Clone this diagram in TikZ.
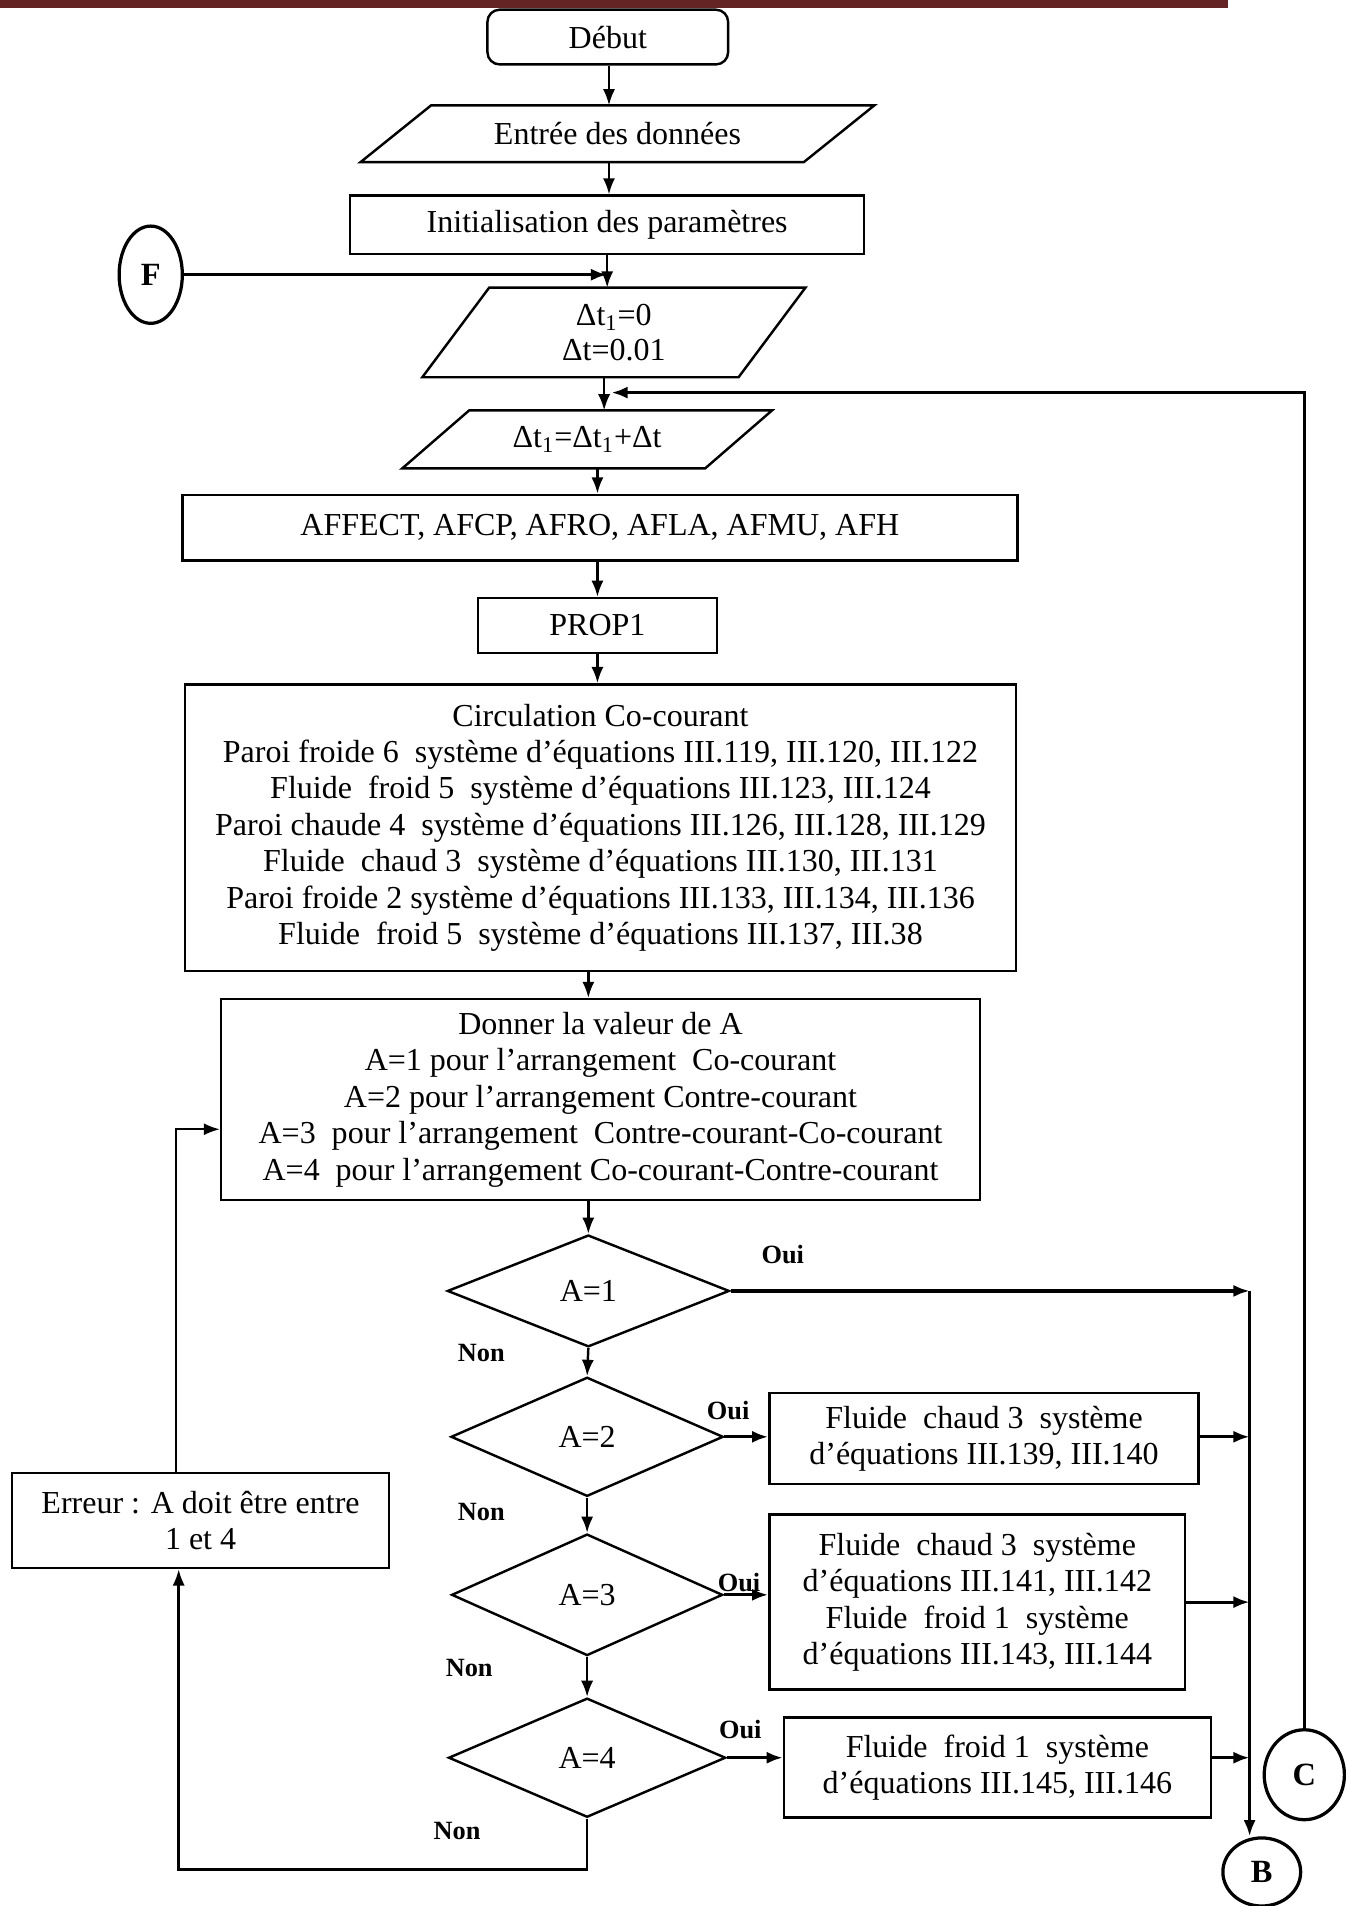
\documentclass[tikz,border=0pt]{standalone}
\usepackage{fontspec}
\setmainfont{Liberation Serif}
\usetikzlibrary{shapes.geometric,arrows.meta}
\definecolor{band}{RGB}{99,36,35}
\begin{document}
\begin{tikzpicture}[x=0.6pt,y=-0.6pt,
  every node/.style={font=\fontsize{15.8}{18}\selectfont, align=center, inner sep=0pt},
  box/.style={draw, line width=1.2pt, rectangle},
  plain/.style={rectangle},
  dia/.style={draw, line width=1.2pt, diamond},
  conn/.style={draw, line width=1.6pt, ellipse, font=\fontsize{16}{18}\selectfont\bfseries},
  lab/.style={font=\fontsize{13}{15}\selectfont\bfseries},
  arr/.style={line width=1.2pt, -{Latex[length=8pt,width=6pt]}},
  thick arr/.style={line width=1.6pt, -{Latex[length=8pt,width=6pt]}},
  para/.style={line width=1.2pt}]
\useasboundingbox (0,0) rectangle (1107,1568);
\fill[band] (0,0) rectangle (1010,6.5);

% nodes
\node[box, rounded corners=6pt, minimum width=198*0.6pt, minimum height=45*0.6pt] (debut) at (500,30.5) {Début};
\node[plain, minimum width=364*0.6pt, minimum height=46*0.6pt] (entree) at (508,110) {Entrée des données};
\draw[para] ([xshift=17.4pt]entree.north west) -- ([xshift=17.4pt]entree.north east) -- ([xshift=-17.4pt]entree.south east) -- ([xshift=-17.4pt]entree.south west) -- cycle;
\node[box, minimum width=423*0.6pt, minimum height=48*0.6pt] (init) at (499.5,185) {Initialisation des paramètres};
\node[conn, minimum width=52*0.6pt, minimum height=80*0.6pt] (F) at (124,226) {F};
\node[plain, minimum width=259.5*0.6pt, minimum height=73*0.6pt, font=\fontsize{15.8}{17}\selectfont] (dt) at (505,273.5) {Δt\textsubscript{1}=0\\Δt=0.01};
\draw[para] ([xshift=16.5pt]dt.north west) -- ([xshift=16.5pt]dt.north east) -- ([xshift=-16.5pt]dt.south east) -- ([xshift=-16.5pt]dt.south west) -- cycle;
\node[plain, minimum width=248.5*0.6pt, minimum height=47*0.6pt] (dtt) at (483,361.5) {Δt\textsubscript{1}=Δt\textsubscript{1}+Δt};
\draw[para] ([xshift=16.5pt]dtt.north west) -- ([xshift=16.5pt]dtt.north east) -- ([xshift=-16.5pt]dtt.south east) -- ([xshift=-16.5pt]dtt.south west) -- cycle;
\node[box, minimum width=687*0.6pt, minimum height=54*0.6pt] (affect) at (493.5,434) {AFFECT, AFCP, AFRO, AFLA, AFMU, AFH};
\node[box, minimum width=197*0.6pt, minimum height=45*0.6pt] (prop) at (491.5,514.5) {PROP1};
\node[box, minimum width=684*0.6pt, minimum height=236*0.6pt] (circ) at (494,681) {Circulation Co-courant\\
Paroi froide 6\ \ système d’équations III.119, III.120, III.122\\
Fluide\ \ froid 5\ \ système d’équations III.123, III.124\\
Paroi chaude 4\ \ système d’équations III.126, III.128, III.129\\
Fluide\ \ chaud 3\ \ système d’équations III.130, III.131\\
Paroi froide 2 système d’équations III.133, III.134, III.136\\
Fluide\ \ froid 5\ \ système d’équations III.137, III.38};
\node[box, minimum width=624*0.6pt, minimum height=165*0.6pt] (donner) at (494,904.5) {Donner la valeur de A\\
A=1 pour l’arrangement\ \ Co-courant\\
A=2 pour l’arrangement Contre-courant\\
A=3\ \ pour l’arrangement\ \ Contre-courant-Co-courant\\
A=4\ \ pour l’arrangement Co-courant-Contre-courant};
\node[dia, minimum width=232*0.6pt, minimum height=92*0.6pt] (d1) at (484,1062) {A=1};
\node[dia, minimum width=224*0.6pt, minimum height=98*0.6pt] (d2) at (483,1182) {A=2};
\node[dia, minimum width=223*0.6pt, minimum height=100*0.6pt] (d3) at (483,1312) {A=3};
\node[dia, minimum width=228*0.6pt, minimum height=98*0.6pt] (d4) at (483,1446) {A=4};
\node[box, minimum width=353*0.6pt, minimum height=75*0.6pt] (b2) at (809.5,1183.5) {Fluide\ \ chaud 3\ \ système\\d’équations III.139, III.140};
\node[box, minimum width=342*0.6pt, minimum height=144*0.6pt] (b3) at (804,1318) {Fluide\ \ chaud 3\ \ système\\d’équations III.141, III.142\\Fluide\ \ froid 1\ \ système\\d’équations III.143, III.144};
\node[box, minimum width=351*0.6pt, minimum height=82*0.6pt] (b4) at (820.5,1454) {Fluide\ \ froid 1\ \ système\\d’équations III.145, III.146};
\node[box, minimum width=310*0.6pt, minimum height=78*0.6pt] (err) at (165,1251) {Erreur : A doit être entre\\1 et 4};
\node[conn, minimum width=64*0.6pt, minimum height=56*0.6pt] (B) at (1038,1540) {B};
\node[conn, minimum width=66*0.6pt, minimum height=74*0.6pt] (C) at (1073,1460) {C};

% labels
\node[lab] (o1) at (644,1032) {Oui};
\node[lab] (o2) at (599,1160) {Oui};
\node[lab] (o3) at (608,1302) {Oui};
\node[lab] (o4) at (609,1423) {Oui};
\node[lab] (n1) at (396,1113) {Non};
\node[lab] (n2) at (396,1244) {Non};
\node[lab] (n3) at (386,1372) {Non};
\node[lab] (n4) at (376,1506) {Non};

% coordinates
\coordinate (bt) at (1028,1062);
\coordinate (cin) at (503,323);
\coordinate (dtx) at (497,310);

% connectors
\draw[arr] ([xshift=0.6pt]debut.south) -- ([xshift=0.6pt]debut.south |- entree.north);
\draw[arr] ([xshift=0.6pt]debut.south |- entree.south) -- ([xshift=0.6pt]debut.south |- init.north);
\draw[arr] (init.south) -- (init.south |- dt.north);
\draw[thick arr] (F.east) -- (F.east -| init.south);
\draw[arr] (dtx) -- (dtx |- dtt.north);
\draw[thick arr] (C.north) -- (C.north |- cin) -- (cin);
\draw[arr] (prop.north |- dtt.south) -- (prop.north |- affect.north);
\draw[arr] (prop.north |- affect.south) -- (prop.north);
\draw[arr] (prop.south) -- (prop.south |- circ.north);
\draw[arr] (d1.north |- circ.south) -- (d1.north |- donner.north);
\draw[arr] (d1.north |- donner.south) -- (d1.north);
\draw[arr] (d1.south) -- (d2.north);
\draw[arr] (d2.south) -- (d3.north);
\draw[arr] (d3.south) -- (d4.north);
\draw[thick arr] (d1.east) -- (bt);
\draw[thick arr] (d2.east) -- (b2.west |- d2.east);
\draw[thick arr] (d3.east) -- (b3.west |- d3.east);
\draw[thick arr] (d4.east) -- (b4.west |- d4.east);
\draw[thick arr] (b2.east |- d2.east) -- (bt |- d2.east);
\draw[thick arr] (b3.east) -- (bt |- b3.east);
\draw[thick arr] (b4.east |- d4.east) -- (bt |- d4.east);
\draw[thick arr] (bt) -- (bt |- B.north);
\draw[arr] (d4.south) -- (d4.south |- 0,1538) -| ([xshift=-10.8pt]err.south);
\draw[arr] ([xshift=-12pt]err.north) |- (donner.west |- 0,929);
\end{tikzpicture}
\end{document}
